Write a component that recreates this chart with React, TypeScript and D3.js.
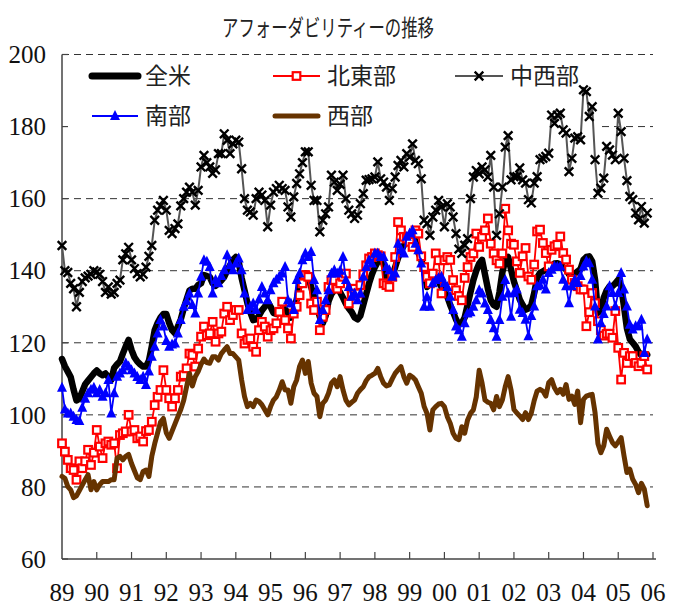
import React from "react";
import * as d3 from "d3";

const yearLabels = ["89","90","91","92","93","94","95","96","97","98","99","00","01","02","03","04","05","06"];
const yTicks = [60, 80, 100, 120, 140, 160, 180, 200];
const seriesNames = ["全米", "北東部", "中西部", "南部", "西部"];

// monthly, Jan 1989 .. Nov 2005
const zenbei = [
115.5,113.5,112,110.5,107,104,104.5,106.5,108.5,109.5,
110.5,111.5,112.3,111.5,111,111.5,110.5,109.7,113,114,
114.8,117,119,120.8,118,116,114.8,114,113.4,113.4,
115,119,123.5,125.5,127,128,128,125.5,123.5,122.6,
124.5,126.5,129.5,132,134.5,135,135,136,136.5,138.8,
138.5,138.3,136.5,135.8,136.5,137.3,138.3,140,141.5,143,
143.8,142.5,138,134.6,131,128.5,126.3,126.5,127.5,129,
130,131.4,130,128.3,128,128.3,129,129.3,128.3,127,
129,132,136,138.5,139.2,138.3,135.5,132.8,130,127.2,
125.4,127.5,131.5,133.5,134.6,135,134,132.5,130.8,129.5,
128.5,127,126.5,127.5,130.5,133.5,136.5,139,141,142.5,
143,142,138,137.5,138.3,141,143.5,145.5,147,148.5,
149.5,150.3,148,145,143,140.1,135.5,136.5,138.3,138.3,
137,135.5,134,132.8,130.5,128.5,126.5,125,125.5,127,
130.5,134,137.4,140,142,143,139,135,131.8,130.5,
130,134,139.5,143,143.8,140.3,137,134.5,132,130.5,
129.2,129.5,130.5,133.8,138,139.4,139.8,140.3,140.8,141.2,
142,142.1,141.7,141,140.3,139,138.5,139.2,139.8,140.5,
143,143.8,144,142.6,137.5,128.3,129,132.5,134.5,135.7,
135.7,136.5,137.5,135.7,130,124,121,120,119,117.5,
116.5,116.3,116.7
];

const hokuto = [
92.1,89.8,87.5,85.2,84.7,82,87.1,85.2,87.1,90.3,
86.1,89.5,95.8,91.2,88,92.1,92.6,91.7,92.1,85.2,
94.4,94.9,95.4,100,95.4,95.8,93.5,94,92.6,95.5,
95.8,98.1,102.7,105,106.9,112.4,106.9,104.6,102.3,104.6,
106.9,110.6,111,112.9,117,116.6,113.4,118.4,121.7,124.5,
122.1,122.6,125.8,120.3,122.6,123.1,128.1,130,126.3,127.7,
129.1,129.1,122.6,119.8,120.8,121.2,118.9,117.5,123.5,125.8,
124.5,121.7,123.5,124,125.4,128.6,131.4,126.3,124,121.2,
128.1,130,133.2,136.5,138.8,138.3,130.9,129.1,131.4,123.5,
127.2,129.1,135.5,137.4,137.4,135,136.5,138.3,139.2,130.9,
133.7,135,133.7,136,139,141.5,143.4,143.8,144.8,144.3,
144,136.5,136,135.5,138.3,143.8,153.5,151.2,149.4,148.9,
148,146.6,151.2,150.3,144,141,138.3,136.5,139.2,144.8,
142.9,133.7,142.9,143.8,143,137.4,134.6,133,131.8,138,
141,143.8,144.8,150.3,146.6,149.4,151.2,154.5,147.5,144.8,
142.9,142,144.8,157.2,151.2,147.5,147.2,142.6,139.4,144,
146.3,138.4,137.5,141.7,150.9,151.4,147.7,144.9,141.2,145.8,
146.8,147.2,149.5,144.9,143.1,140.3,137.5,136.6,135.7,134.8,
134.8,124.6,128.5,133.8,131,126,123.5,122,122.5,122.5,
121.4,128.8,118.6,109.8,117.2,114.4,116.3,116.3,114.4,113.5,
114.4,116.3,112.6
];

const chubu = [
147,140,139.5,136.5,135,130,134,137,138,138.5,
139,140,139.7,139,137,134,135.5,133.5,134,136.5,
137.4,143,144.7,146.5,143,140.6,139.2,138.3,139,141,
144,147,154,156.8,158,159.5,156.8,151.2,150.3,151.7,
153,158,160,161.8,163.2,161.8,158.2,162.3,168.8,172,
170,168.8,167,168,172.5,172.5,178,176.2,172.5,175.2,
176.2,175.7,168.3,160,156.8,156.3,155.4,160,161.8,161,
159.5,152.2,158.2,161.8,162.8,163.7,162.8,162.3,157.7,154.9,
160.5,164.2,166.9,170,173,173,163.7,159.5,159.5,150.8,
154,155.8,157.7,166.5,164.6,162.3,164,166.5,160,156.8,
155.8,154.5,155.4,158.6,161.4,165.1,165.3,165.5,166,170.2,
165.5,164.6,163.2,159.5,162.8,166,169.2,170.6,168.8,172.5,
171.5,175.2,170.6,169.7,165.5,154,153.1,149.8,154.9,156.8,
159.5,157.7,152.2,158.6,157.7,154.9,150.3,146,144.8,147.1,
148.9,160,166,167.8,166.9,168.8,168,166,172,163.2,
149.8,155.8,163.2,174.3,177.5,165.2,166.1,166.1,168.5,165.2,
164.3,159.7,158.8,164.3,166.1,170.8,171.2,171.7,172.6,183.2,
180.9,183.2,183.7,179.1,178.2,167.5,171.2,176.8,177.2,176.3,
190.2,189.7,182.8,185.5,170.8,161.5,162.9,165.7,174.5,173.5,
172.1,170.8,183.7,178.6,171.2,165,160.6,159.7,156,154.1,
157.8,153.2,156
];

const nanbu = [
107.5,101.5,100.4,100.4,99.5,98.6,98.3,102,104.5,106,
107,107.5,106,106.9,105,106,109.7,100.4,106,110.6,
111.5,112.4,114.3,113.4,112.4,111.5,110.5,109.7,110.6,108.3,
112,116.1,118.9,122.6,126.3,124.5,120.5,118.9,119.5,119.8,
122.6,126.3,130,131.5,133.7,130.5,128.1,133.7,138.3,142.9,
142.5,141,133.7,137.4,136.5,138.5,140.1,144.3,141.5,140.1,
142,143.4,140.1,133.7,129.1,130,130.9,129.1,132,135.5,
133.7,131.8,134.6,136.5,137.5,138.3,139.2,141,131.8,130.9,
129.1,137.4,139.2,142.9,144.8,143.8,145.2,137.4,134.6,126.3,
129.1,131.8,134.6,139.2,140.1,139.2,140,143.8,137.4,135.5,
132.8,133.7,131.8,133.7,138.3,141,142.9,142,144.8,144.8,
143.8,143.8,141,140.1,138.3,139.2,147.5,145.7,144.8,149.4,
150.3,151.2,147.5,145.7,142,130,132.8,130,136.5,137.4,
138,138.3,136.5,135.5,132.8,129.1,124.5,123.5,121.7,125.4,
128.1,128.5,130,131.8,134.6,133.7,130.9,129.1,126.3,124,
121.7,126.3,132.8,137.4,133.7,127.2,133.8,134.8,129.2,128.3,
126.4,121.8,127.4,130.1,135.7,136,137.5,134.8,139.4,140.3,
141.2,141,141.2,137.5,135.7,131,135.7,137.5,136.6,138.5,
141.2,142.6,142.1,137.5,130.1,120.9,125.5,128,130.1,135.7,
133.8,130.1,133.8,139.4,134.8,130.1,125,123.7,124.6,124.6,
126.4,117.2,120.9
];

const seibu = [
82.9,82.4,80.1,79.2,77,77.5,79,80.5,82,83.4,
79.2,81.5,79.2,80.6,81.5,81.5,81.5,82,82,88,
88.5,87.5,88.5,89,86.5,84.5,82.5,82,84.3,84.7,
82.9,88.5,92,95,98,99,95,93.5,95.5,97.5,
99.5,101.5,104,107.8,111.5,108,110.6,112,114,115.5,
114.5,114.3,116.1,116.1,115.2,117,118,118.9,117,117,
116.1,115.2,109.7,105.1,102.3,103.2,102.3,104.1,103.7,102.8,
101.4,100,102.3,104.1,105,106.9,109.2,106.9,106.9,103.2,
107.8,109.7,113.4,115.2,111.5,114.8,108.8,106,105.1,99.5,
103.2,104.1,106,108.8,109.7,107.8,110.6,106.9,104.1,102.8,
103.5,104.1,106,107,107.8,109.5,110.6,111,111.5,112.9,
110.6,108.8,108,108.3,110,111.5,112.5,113.4,110.6,108.8,
111,110.5,109.7,107.8,106,102.3,100.4,95.8,101.4,102.3,
103,103.2,102.3,99.5,97.7,94.9,93.5,93.1,96.7,94.9,
98.6,100.4,101.4,105,112.4,108.8,104.1,103.5,103.2,101.4,
105.1,102.3,104.1,107.8,110.6,106.9,101.5,100.5,99.7,98.7,
100.6,98.7,100.5,104,106.6,107.1,106.6,105.2,108.9,109.8,
107.5,106.1,107.1,105.7,108.4,104.3,105.2,102.9,106.6,97.8,
104.3,105.2,105.5,105.7,100.6,92,89.5,91.4,96,94.1,
92.3,91.4,92.5,93.7,88.6,84,84.9,82.1,80.7,78.4,
81,79.4,74.8
];

const W = 683, H = 605;
const x = d3.scaleLinear().domain([0, 204]).range([62, 653]);
const y = d3.scaleLinear().domain([60, 200]).range([559, 54.5]);
const lineGen = d3.line<number>().x((_, i) => x(i)).y((d) => y(d));

const RED = "#ff0000", BLUE = "#0000ff", BROWN = "#663300", GRAY = "#555555";
const serif = "'Liberation Serif', 'Times New Roman', serif";
const jp = "'Noto Sans CJK JP', sans-serif";

function Square({ cx, cy }: { cx: number; cy: number }) {
  return <rect x={cx - 3.8} y={cy - 3.8} width={7.6} height={7.6} fill="#fff" stroke={RED} strokeWidth={2.2} />;
}
function Tri({ cx, cy }: { cx: number; cy: number }) {
  return <path d={`M${cx},${cy - 6}L${cx + 5},${cy + 4}L${cx - 5},${cy + 4}Z`} fill={BLUE} />;
}
function Cross({ cx, cy }: { cx: number; cy: number }) {
  const r = 4.3;
  return <path d={`M${cx - r},${cy - r}L${cx + r},${cy + r}M${cx - r},${cy + r}L${cx + r},${cy - r}`} stroke="#000" strokeWidth={2.4} fill="none" />;
}

export default function App() {
  const gridVals = yTicks.filter((v) => v > 60);
  return (
    <svg width={W} height={H} style={{ position: "absolute", left: 0, top: 0, background: "#fff" }}>
      <rect x={0} y={0} width={W} height={H} fill="#fff" />
      <text x={222} y={36} fontFamily={jp} fontSize={23} textLength={212} lengthAdjust="spacingAndGlyphs" fill="#222">アフォーダビリティーの推移</text>
      {gridVals.map((v) => (
        <line key={v} x1={62} x2={653} y1={y(v)} y2={y(v)} stroke="#333" strokeWidth={1} strokeDasharray="7,5" />
      ))}
      {/* legend box */}
      <rect x={63} y={56.5} width={537} height={80} fill="#fff" />
      {/* axes */}
      <line x1={62} x2={62} y1={y(200)} y2={y(60)} stroke="#444" strokeWidth={1.5} />
      <line x1={62} x2={656} y1={y(60)} y2={y(60)} stroke="#444" strokeWidth={1.5} />
      {yTicks.map((v) => (
        <g key={v}>
          <line x1={62} x2={68} y1={y(v)} y2={y(v)} stroke="#444" strokeWidth={1.2} />
          <text x={46} y={y(v)} dy="0.35em" textAnchor="end" fontFamily={serif} fontSize={25} fill="#111">{v}</text>
        </g>
      ))}
      {yearLabels.map((lab, k) => (
        <g key={lab}>
          {k > 0 && <line x1={x(k * 12)} x2={x(k * 12)} y1={y(60)} y2={y(60) - 7} stroke="#444" strokeWidth={1.2} />}
          <text x={x(k * 12)} y={601} textAnchor="middle" fontFamily={serif} fontSize={25} fill="#111">{lab}</text>
        </g>
      ))}
      {/* series */}
      <path d={lineGen(zenbei) || ""} fill="none" stroke="#000" strokeWidth={6.5} strokeLinejoin="round" strokeLinecap="round" />
      <path d={lineGen(hokuto) || ""} fill="none" stroke={RED} strokeWidth={1.8} strokeLinejoin="round" />
      {hokuto.map((v, i) => <Square key={"h" + i} cx={x(i)} cy={y(v)} />)}
      <path d={lineGen(chubu) || ""} fill="none" stroke={GRAY} strokeWidth={2} strokeLinejoin="round" />
      {chubu.map((v, i) => <Cross key={"c" + i} cx={x(i)} cy={y(v)} />)}
      <path d={lineGen(nanbu) || ""} fill="none" stroke={BLUE} strokeWidth={1.8} strokeLinejoin="round" />
      {nanbu.map((v, i) => <Tri key={"n" + i} cx={x(i)} cy={y(v)} />)}
      <path d={lineGen(seibu) || ""} fill="none" stroke={BROWN} strokeWidth={5} strokeLinejoin="round" strokeLinecap="round" />
      {/* legend */}
      <g fontFamily={jp} fontSize={23} fill="#222">
        <line x1={92} x2={138} y1={76} y2={76} stroke="#000" strokeWidth={7} strokeLinecap="round" />
        <text x={145} y={84}>{seriesNames[0]}</text>
        <line x1={273} x2={320} y1={76} y2={76} stroke={RED} strokeWidth={2} />
        <Square cx={296.5} cy={76} />
        <text x={327} y={84}>{seriesNames[1]}</text>
        <line x1={455} x2={503} y1={76} y2={76} stroke={GRAY} strokeWidth={2} />
        <Cross cx={479} cy={76} />
        <text x={510} y={84}>{seriesNames[2]}</text>
        <line x1={92} x2={138} y1={116} y2={116} stroke={BLUE} strokeWidth={2} />
        <Tri cx={115} cy={116} />
        <text x={145} y={124}>{seriesNames[3]}</text>
        <line x1={275} x2={318} y1={116} y2={116} stroke={BROWN} strokeWidth={5} strokeLinecap="round" />
        <text x={327} y={124}>{seriesNames[4]}</text>
      </g>
    </svg>
  );
}
